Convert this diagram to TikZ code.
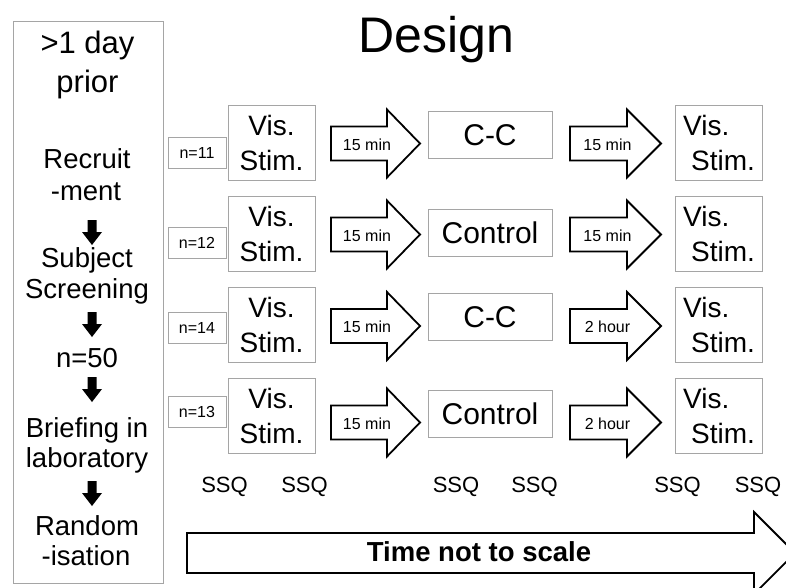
\documentclass[tikz,border=0pt]{standalone}
\usepackage{fontspec}
\setmainfont{Liberation Sans}
\definecolor{boxgray}{RGB}{165,165,165}
\newcommand{\fsz}[2]{\fontsize{#1}{#2}\selectfont}

\begin{document}
\begin{tikzpicture}[x=1pt,y=-1pt,
  greybox/.style={draw=boxgray, line width=0.9pt, inner sep=0pt},
  visbox/.style={greybox, minimum width=87pt, minimum height=75pt, align=center, font=\fsz{28}{35}},
  visboxr/.style={visbox, align=left},
  treatbox/.style={greybox, minimum width=124pt, minimum height=47pt, font=\fsz{30}{36}},
  nbox/.style={greybox, minimum width=58pt, minimum height=31pt, font=\fsz{16}{19}},
  colline/.style={anchor=base, inner sep=0pt, font=\fsz{27.5}{31}},
  arrlabel/.style={inner sep=0pt, font=\fsz{16}{19}},
  ssq/.style={anchor=base, inner sep=0pt, font=\fsz{22}{26}},
  blockarr/.style={draw=black, line width=1.8pt, fill=white, line join=miter}]

\clip (0,0) rectangle (786,587);
\fill[white] (0,0) rectangle (786,587);

%% title
\node[anchor=base, inner sep=0pt, font=\fsz{50}{60}] (title) at (436.5,52) {Design};

%% left column
\draw[greybox] (13,21) rectangle (163,583);
\node[colline, font=\fsz{31}{36}] (c1) at (87.5,53) {>1 day};
\node[colline, font=\fsz{31}{36}] (c2) at (87.5,92) {prior};
\node[colline] (c3) at (87,168) {Recruit};
\node[colline] (c4) at (86,200) {-ment};
\node[colline] (c5) at (87,267) {Subject};
\node[colline] (c6) at (87,298) {Screening};
\node[colline] (c7) at (87,367) {n=50};
\node[colline] (c8) at (87,437) {Briefing in};
\node[colline] (c9) at (87,467) {laboratory};
\node[colline] (c10) at (87,535) {Random};
\node[colline] (c11) at (86,565) {-isation};

\foreach \t in {220,312,377,481}
  \fill[shift={(92,\t)}] (-4.5,0) -- (4.5,0) -- (4.5,12) -- (10,12) -- (0,25) -- (-10,12) -- (-4.5,12) -- cycle;

%% groups
\node[nbox] (n1) at (197,152.5) {n=11};
\node[nbox] (n2) at (197,243) {n=12};
\node[nbox] (n3) at (197,327.5) {n=14};
\node[nbox] (n4) at (197,412) {n=13};

\node[visbox] (v1) at (271.5,142.5) {Vis.\\Stim.};
\node[visbox] (v2) at (271.5,234) {Vis.\\Stim.};
\node[visbox] (v3) at (271.5,324.5) {Vis.\\Stim.};
\node[visbox] (v4) at (271.5,415.5) {Vis.\\Stim.};

\node[treatbox] (m1) at (490,135) {C-C};
\node[treatbox] (m2) at (490,232.5) {Control};
\node[treatbox] (m3) at (490,317) {C-C};
\node[treatbox] (m4) at (490,414) {Control};

\node[visboxr] (w1) at (719,142.5) {Vis.\\\hspace*{8pt}Stim.};
\node[visboxr] (w2) at (719,234) {Vis.\\\hspace*{8pt}Stim.};
\node[visboxr] (w3) at (719,324.5) {Vis.\\\hspace*{8pt}Stim.};
\node[visboxr] (w4) at (719,415.5) {Vis.\\\hspace*{8pt}Stim.};

%% arrows
\foreach \c in {143.5,234.5,326,422.5} {
  \draw[blockarr, shift={(331,\c)}] (0,-17) -- (56,-17) -- (56,-34) -- (89,0) -- (56,34) -- (56,17) -- (0,17) -- cycle;
  \draw[blockarr, shift={(570,\c)}] (0,-17) -- (57,-17) -- (57,-34) -- (91,0) -- (57,34) -- (57,17) -- (0,17) -- cycle;
}
\node[arrlabel] (a1) at (367,144.5) {15 min};
\node[arrlabel] (a2) at (367,235.5) {15 min};
\node[arrlabel] (a3) at (367,327) {15 min};
\node[arrlabel] (a4) at (367,423.5) {15 min};
\node[arrlabel] (b1) at (607.5,144.5) {15 min};
\node[arrlabel] (b2) at (607.5,235.5) {15 min};
\node[arrlabel] (b3) at (607.5,327) {2 hour};
\node[arrlabel] (b4) at (607.5,423.5) {2 hour};

%% questionnaires
\node[ssq] (s1) at (224.5,492) {SSQ};
\node[ssq] (s2) at (304.5,492) {SSQ};
\node[ssq] (s3) at (456,492) {SSQ};
\node[ssq] (s4) at (534.5,492) {SSQ};
\node[ssq] (s5) at (677.5,492) {SSQ};
\node[ssq] (s6) at (758,492) {SSQ};

%% time line
\draw[blockarr] (187,533) -- (754,533) -- (754,512) -- (795,553) -- (754,594) -- (754,573) -- (187,573) -- cycle;
\node[anchor=base, inner sep=0pt, font=\bfseries\fsz{27.5}{32}] (time) at (479,561) {Time not to scale};

\end{tikzpicture}
\end{document}
